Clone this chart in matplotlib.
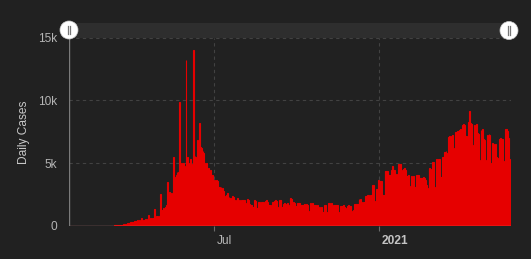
import matplotlib
matplotlib.use("Agg")
import matplotlib.pyplot as plt
import matplotlib.dates as mdates
from matplotlib.patches import Rectangle, Circle
from matplotlib.lines import Line2D
from matplotlib.transforms import offset_copy
import numpy as np
import pandas as pd

# ---------------- data (daily cases, from 2020-01-21) ----------------
start_date = "2020-01-21"

early = [0, 0, 0, 0, 0, 0, 0, 0,
         0, 0, 0, 0, 0, 0, 0, 0,
         0, 0, 0, 0, 0, 0, 0, 0,
         0, 0, 0, 0, 0, 0, 0, 0,
         2, 1, 0, 3, 5, 4, 8, 6, 10, 12, 9, 15, 20, 18, 25, 30, 28, 35, 40, 45, 50, 55,
         60, 75, 80, 95, 100, 115, 120, 140, 150, 165, 180, 200, 215, 240,
         300, 280, 320, 350, 330, 380, 400, 360, 480, 420, 450, 400]

wave1 = [650,
         430, 470, 500, 460, 520, 540, 500,
         900,
         560, 600, 620, 580, 650, 640,
         1350,
         700, 760, 800, 740, 820, 880,
         2550,
         1250, 1300, 1400, 1350, 1500, 1700,
         3500,
         1800, 2000, 2700, 2200, 2600, 2400,
         5500,
         3500, 3900, 4100, 4300, 4200, 4300,
         9900,
         4900, 5000, 4700, 5000, 4600, 4800,
         13200,
         4700, 5500, 4800, 5000, 5300, 4600, 4900,
         14000,
         5200, 5600, 4800, 5500, 6850, 6700,
         8200,
         6300, 6200, 5100, 6000, 5800, 5000, 4900, 5000, 4500, 4600, 4400, 4500, 4100, 4000, 4050, 3600,
         3700, 2600, 3700, 3600, 3100, 3100, 3000, 3100, 2800, 3000, 2800, 2300, 2400, 2500, 2600, 2100, 2300, 2000]

summer = [2200, 2100, 2400, 2300, 1800, 2100, 2000, 2200, 1900, 1700, 2100,
          2000, 2070, 2070, 2050, 2100,
          1800, 1750,
          2100, 2150, 2100,
          1750, 1700, 1650,
          1550, 1500,
          2050, 2070, 2000,
          1400, 1450,
          1880, 1900, 1850,
          1950, 1940, 1900,
          1750, 1700,
          2000, 2050, 1950,
          1700, 1650, 1700, 1600,
          1940, 1950, 1900,
          2000, 2050, 2000,
          1450, 1500,
          2070, 2100, 2050,
          1540, 1500,
          1750, 1800, 1700, 1750, 1800, 1700,
          1350,
          2200, 2250, 2150,
          1850, 1900, 1800,
          1620, 1600,
          1830, 1850, 1800, 1820]

autumn = [1670, 1700, 1650,
          1700, 1750, 1680, 1720, 1650, 1700,
          1140, 1200,
          1800, 1780, 1820,
          1670, 1650, 1700, 1680, 1600, 1650,
          1460, 1500, 1450, 1480,
          1140, 1150,
          1650, 1600, 1680,
          1060, 1100,
          1800, 1850, 1780, 1800,
          1600, 1620,
          1670, 1700, 1650, 1680, 1700,
          1060, 1100,
          1600, 1620, 1580, 1600, 1650, 1550,
          1400, 1350,
          1620, 1650, 1600, 1620, 1580,
          1150, 1200, 1250,
          1750, 1780, 1750, 1720, 1760,
          2130, 2100, 2150,
          1900, 1850, 1950, 1900,
          2400, 2350, 2450, 2400,
          2450, 2300]

winter = [2470, 2450,
          3270, 3250,
          1940, 2000,
          2940, 2900, 2950,
          3660, 3600, 3550, 3620,
          2470, 2500, 2450,
          4400, 4350, 4380, 4420,
          4100, 4050, 4100,
          4450, 4800, 4500, 4400, 4450,
          3950, 4150, 3500,
          4940, 4900, 4950,
          4450, 4400, 4450,
          4550, 4600, 4500,
          4000, 3950, 4050,
          3130, 3200, 3150,
          4000, 3900, 3950,
          3130, 3100,
          4100, 4050, 4100,
          3800, 3850, 3800,
          3850, 3800, 3900, 3850, 3700,
          3300, 2600, 3000,
          4550, 4600, 4500, 4550,
          5120, 5100,
          3000, 3100,
          5330, 5300, 5250, 5350, 5300]

spring = [3930, 3900,
          5520, 5500,
          5920, 5900, 5950, 5850,
          4870,
          7100, 7200, 7050, 7150, 7250,
          6200, 6150,
          4870,
          7500, 7450, 7550, 7600,
          7650, 7700,
          6050,
          8050, 8000, 8100, 8050,
          7200, 7150,
          6000,
          8300,
          9170,
          8200, 8150, 8100,
          6450, 6400,
          8050, 8000, 8100,
          7400, 7350,
          5200, 5250,
          7650, 7600, 7700,
          6900, 6850,
          5260, 5200,
          7250, 7200, 7300, 7250,
          5000, 4900,
          6600, 6500, 6450, 6550,
          5500, 5450,
          3900, 4000,
          6900, 7000, 6950, 6900,
          4800, 5200,
          7700, 7750, 7650, 7600,
          7000,
          5300,
          4150]

y_ticks = [0, 5000, 10000, 15000]
y_tick_labels = ["0", "5k", "10k", "15k"]
x_tick_dates = ["2020-07-01", "2021-01-01"]
x_tick_labels = ["Jul", "2021"]
y_title = "Daily Cases"

# ---------------- build ----------------
daily = np.array(early + wave1 + summer + autumn + winter + spring, dtype=float)
dates = pd.date_range(start_date, periods=len(daily), freq="D")
xnum = mdates.date2num(dates.to_pydatetime())

BG = "#212121"
RED = "#e60000"
W, H = 531, 259

plt.rcParams["font.family"] = ["Liberation Sans", "DejaVu Sans"]

fig = plt.figure(figsize=(W / 100, H / 100), dpi=100)
fig.patch.set_facecolor(BG)

left_px, right_px, top_px, bottom_px = 69, 511, 37.7, 226
ax = fig.add_axes([left_px / W, 1 - bottom_px / H,
                   (right_px - left_px) / W, (bottom_px - top_px) / H])
ax.set_facecolor("none")

# navigator band (behind axes)
fig.patches.append(Rectangle((left_px / W, 1 - 38.3 / H), (right_px - left_px) / W,
                             (38.3 - 22.7) / H, transform=fig.transFigure,
                             facecolor="#2e2e2e", edgecolor="none", zorder=0))

x0 = mdates.date2num(pd.Timestamp(start_date))
ax.set_xlim(x0, x0 + 493)
ax.set_ylim(0, 15000)

# grid lines
for yv in y_ticks[1:]:
    ax.axhline(yv, color="#424242", lw=0.8, ls=(0, (3, 3)), zorder=1)
tick_nums = [mdates.date2num(pd.Timestamp(d)) for d in x_tick_dates]
for xv in tick_nums:
    ax.axvline(xv, color="#424242", lw=0.8, ls=(0, (3, 3)), zorder=1)

# bars
ax.bar(xnum, daily, width=1.0, align="edge", color=RED, edgecolor=RED,
       linewidth=0.8, zorder=2)

# axis lines
ax.plot([x0, xnum[-1] + 1], [0, 0], color="white", alpha=0.38, lw=1.0, zorder=3,
        solid_capstyle="butt")
for s in ax.spines.values():
    s.set_visible(False)
ax.add_line(Line2D([0, 0], [0, 1], transform=ax.transAxes, color="#7a7a7a",
                   lw=1.0, zorder=3))

# y ticks
ax.set_yticks(y_ticks)
ax.set_yticklabels(y_tick_labels)
ax.tick_params(axis="y", length=0, pad=8.5, labelsize=8.6, labelcolor="#b4b4b4")

# x ticks (marks) + offset labels
ax.set_xticks(tick_nums)
ax.set_xticklabels([])
ax.tick_params(axis="x", length=3.8, width=0.8, color="#6a6a6a", direction="out")
xt = ax.get_xaxis_transform()
for xv, lab in zip(tick_nums, x_tick_labels):
    tr = offset_copy(xt, fig=fig, x=2.6, y=-14.7, units="dots")
    ax.text(xv, 0, lab, transform=tr, ha="left", va="center", fontsize=8.6,
            color="#b8b8b8" if lab != "2021" else "#c4c4c4",
            fontweight="normal" if lab != "2021" else "bold")

# y title
fig.text(24 / W, 1 - 132 / H, y_title, rotation=90, ha="center", va="center",
         fontsize=8.6, color="#c8c8c8")

# navigator handles
for cx, cy in [(69, 30), (509, 30.5)]:
    c = Circle((cx / 100, (H - cy) / 100), 9 / 100, transform=fig.dpi_scale_trans,
               facecolor="white", edgecolor="#cccccc", lw=0.5, zorder=10)
    fig.patches.append(c)
    for dx in (-1.4, 1.4):
        fig.lines.append(Line2D([(cx + dx) / 100] * 2,
                                [(H - cy - 4.3) / 100, (H - cy + 4.3) / 100],
                                transform=fig.dpi_scale_trans, color="#777777",
                                lw=0.9, zorder=11))

fig.savefig("out.png", dpi=100, facecolor=BG)
